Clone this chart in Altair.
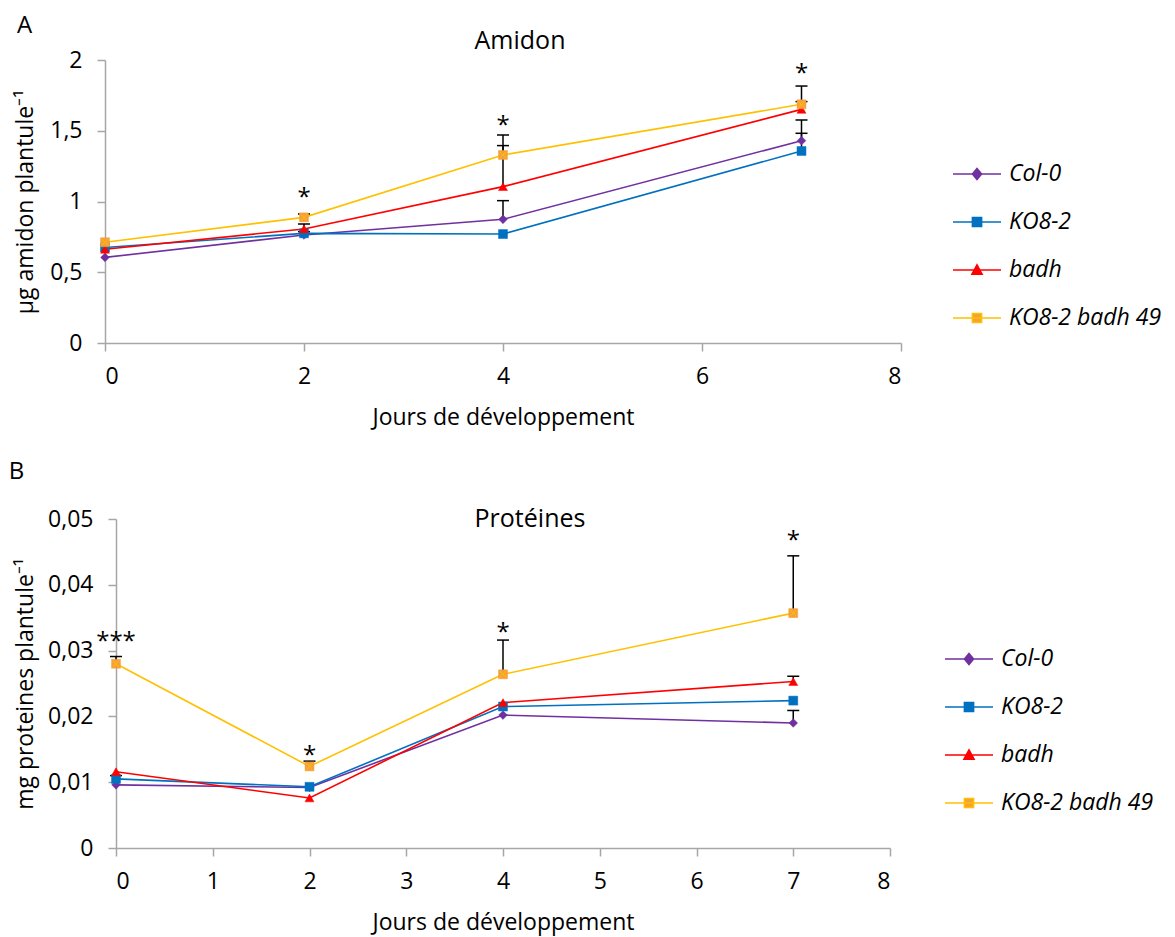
import altair as alt
import pandas as pd

FONT = "Open Sans"

series = ["Col-0", "KO8-2", "badh", "KO8-2 badh 49"]
days = [0, 2, 4, 7]

# ---- Panel A : Amidon (µg / plantule) ----
amidon_col0 = [0.605, 0.763, 0.874, 1.430]
amidon_ko82 = [0.675, 0.775, 0.770, 1.357]
amidon_badh = [0.662, 0.806, 1.105, 1.651]
amidon_ko82_badh49 = [0.712, 0.888, 1.329, 1.687]

amidon_err_col0 = [None, 0.787, 1.006, 1.576]
amidon_err_ko82 = [None, None, None, 1.482]
amidon_err_badh = [None, 0.841, 1.395, 1.706]
amidon_err_ko82_badh49 = [None, 0.912, 1.470, 1.816]

amidon_stars = ["", "*", "*", "*"]
amidon_star_y = [None, 1.069, 1.574, 1.941]

# ---- Panel B : Protéines (mg / plantule) ----
prot_col0 = [0.0096, 0.0092, 0.0202, 0.0190]
prot_ko82 = [0.0105, 0.0093, 0.0215, 0.0224]
prot_badh = [0.0116, 0.0076, 0.0221, 0.0253]
prot_ko82_badh49 = [0.0280, 0.0124, 0.0264, 0.0357]

prot_err_col0 = [None, None, None, 0.0209]
prot_err_ko82 = [0.0110, None, None, None]
prot_err_badh = [None, None, None, 0.0261]
prot_err_ko82_badh49 = [0.0291, 0.0132, 0.0316, 0.0444]

prot_stars = ["***", "*", "*", "*"]
prot_star_y = [0.0322, 0.0149, 0.0336, 0.0476]

# ---- styles ----
line_colors = ["#7030A0", "#0070C0", "#FF0000", "#FFC000"]
marker_colors = ["#7030A0", "#0070C0", "#FF0000", "#F5A03A"]
marker_shapes = ["diamond", "square", "triangle-up", "square"]
marker_sizes = [75, 80, 80, 80]
legend_paths = [
    "M-1,0L1,0M0,-0.23L0.19,0L0,0.23L-0.19,0Z",
    "M-1,0L1,0M-0.19,-0.19L0.19,-0.19L0.19,0.19L-0.19,0.19Z",
    "M-1,0L1,0M0,-0.21L0.21,0.17L-0.21,0.17Z",
    "M-1,0L1,0M-0.19,-0.19L0.19,-0.19L0.19,0.19L-0.19,0.19Z",
]


def long_df(vals, errs):
    rows = []
    for s, v, e in zip(series, vals, errs):
        for d, vv, ee in zip(days, v, e):
            rows.append({"day": d, "series": s, "value": vv, "upper": ee})
    return pd.DataFrame(rows)


def star_df(stars, ys):
    return pd.DataFrame(
        [{"day": d, "star": s, "y": y} for d, s, y in zip(days, stars, ys) if s]
    )


def panel(df, sdf, ytitle, ydomain, yticks, xticks, width, height,
          title_text, title_pos, letter, letter_pos, leg_pos, ytitle_x):
    xs = alt.Scale(domain=[0, 8], nice=False, zero=False)
    ys = alt.Scale(domain=ydomain, nice=False, zero=False)
    xaxis = alt.Axis(values=xticks, title="Jours de développement", format="d")
    yaxis = alt.Axis(
        values=yticks, title=ytitle,
        labelExpr="replace(format(datum.value, '~g'), '.', ',')",
        titleX=ytitle_x, titleY=height / 2, titleAngle=-90,
        titleBaseline="middle", titleAlign="center",
    )
    X = alt.X("day:Q", scale=xs, axis=xaxis)

    def Y(f):
        return alt.Y(f"{f}:Q", scale=ys, axis=yaxis)

    base = alt.Chart(df)
    lines = base.mark_line(strokeWidth=1.6).encode(
        x=X, y=Y("value"),
        color=alt.Color("series:N", scale=alt.Scale(domain=series, range=line_colors), legend=None),
    )
    err = base.transform_filter("isValid(datum.upper)")
    rules = err.mark_rule(color="black", strokeWidth=1.5).encode(x=X, y=Y("value"), y2="upper:Q")
    caps = err.mark_tick(orient="horizontal", color="black", thickness=1.5, size=12, opacity=1).encode(
        x=X, y=Y("upper"))

    pts = []
    for s, sh, sz, c in zip(series, marker_shapes, marker_sizes, marker_colors):
        pts.append(
            base.transform_filter(alt.datum.series == s)
            .mark_point(filled=True, shape=sh, size=sz, fill=c, stroke=c, strokeWidth=0.5, opacity=1)
            .encode(x=X, y=Y("value"))
        )
    cross = (
        base.transform_filter(alt.datum.series == series[3])
        .mark_point(filled=False, shape="M-1,-1L1,1M1,-1L-1,1", size=40,
                    stroke="#FFC000", strokeWidth=1, opacity=1)
        .encode(x=X, y=Y("value"))
    )
    stars = alt.Chart(sdf).mark_text(font=FONT, fontSize=24, color="black", dy=6).encode(
        x=X, y=Y("y"), text="star:N")

    one = pd.DataFrame({"k": [0]})
    title_t = alt.Chart(one).mark_text(font=FONT, fontSize=25, color="black",
                                       align="center", baseline="middle").encode(
        x=alt.value(title_pos[0]), y=alt.value(title_pos[1]), text=alt.value(title_text))
    letter_t = alt.Chart(one).mark_text(font=FONT, fontSize=24, color="black",
                                        align="center", baseline="middle").encode(
        x=alt.value(letter_pos[0]), y=alt.value(letter_pos[1]), text=alt.value(letter))

    leg = alt.Legend(
        title=None, orient="none", legendX=leg_pos[0], legendY=leg_pos[1],
        labelFont=FONT, labelFontSize=23, labelFontStyle="italic", labelColor="black",
        labelLimit=400, symbolSize=2304, symbolStrokeWidth=1.6, symbolOpacity=1,
        labelOffset=7, rowPadding=11, padding=0,
    )
    # invisible layer that only carries the legend (line + marker symbols)
    legend_layer = base.mark_point(filled=True, opacity=0).encode(
        x=X, y=Y("value"),
        shape=alt.Shape("series:N", scale=alt.Scale(domain=series, range=legend_paths), legend=leg),
        fill=alt.Fill("series:N", scale=alt.Scale(domain=series, range=marker_colors), legend=leg),
        stroke=alt.Stroke("series:N", scale=alt.Scale(domain=series, range=line_colors), legend=leg),
    )

    return alt.layer(legend_layer, lines, rules, caps, *pts, cross, stars, title_t, letter_t).properties(
        width=width, height=height)


dfA = long_df([amidon_col0, amidon_ko82, amidon_badh, amidon_ko82_badh49],
              [amidon_err_col0, amidon_err_ko82, amidon_err_badh, amidon_err_ko82_badh49])
dfB = long_df([prot_col0, prot_ko82, prot_badh, prot_ko82_badh49],
              [prot_err_col0, prot_err_ko82, prot_err_badh, prot_err_ko82_badh49])

pA = panel(dfA, star_df(amidon_stars, amidon_star_y), "µg amidon plantule⁻¹",
           [0, 2], [0, 0.5, 1, 1.5, 2], [0, 2, 4, 6, 8], 796, 283,
           "Amidon", (415, -19), "A", (-80.5, -34), (847, 89), -80)
pB = panel(dfB, star_df(prot_stars, prot_star_y), "mg proteines plantule⁻¹",
           [0, 0.05], [0, 0.01, 0.02, 0.03, 0.04, 0.05], [0, 1, 2, 3, 4, 5, 6, 7, 8], 774, 329,
           "Protéines", (414, 0), "B", (-99.5, -47), (828, 115), -91)

chart = (
    alt.vconcat(pA, pB, spacing=176, bounds="flush", center=True)
    .resolve_scale(color="independent", fill="independent", stroke="independent", shape="independent")
    .resolve_legend(color="independent", fill="independent", stroke="independent", shape="independent")
    .properties(padding={"left": 0, "top": 6, "right": 5, "bottom": 5})
    .configure_view(stroke=None)
    .configure_axis(
        labelFont=FONT, labelFontSize=23, labelColor="black",
        titleFont=FONT, titleFontSize=23, titleFontWeight="normal", titleColor="black",
        domainColor="#A6A6A6", tickColor="#A6A6A6", domainWidth=1.5, tickWidth=1.5,
        tickSize=8, grid=False,
    )
    .configure_axisX(labelPadding=14, titlePadding=18)
    .configure_axisY(labelPadding=15)
)

chart.save("out.html", embed_options={"renderer": "svg", "actions": False})
